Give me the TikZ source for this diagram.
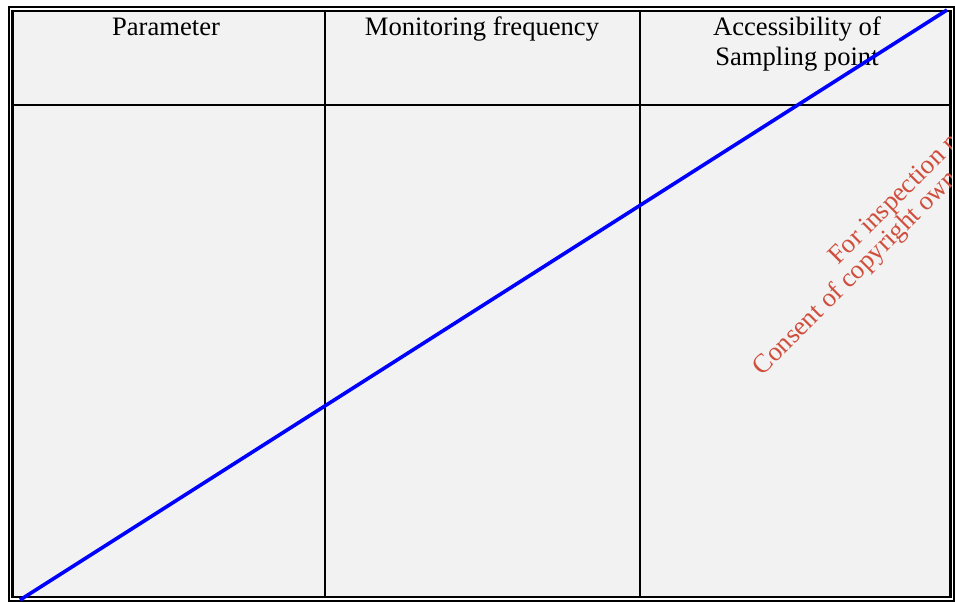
\documentclass[tikz,border=0pt]{standalone}
\usepackage{fontspec}
\setmainfont{Liberation Serif}
\usetikzlibrary{positioning}
\definecolor{cellgray}{RGB}{242,242,242}
\definecolor{stampred}{RGB}{208,78,60}

\begin{document}
\begin{tikzpicture}[x=0.5pt, y=-0.5pt,
  rule/.style={draw=black, line width=1.2pt},
  head/.style={inner sep=0pt, align=center, anchor=base,
    font=\fontsize{13.3}{15}\selectfont},
  stamp/.style={inner sep=0pt, anchor=base, rotate=45, text=stampred,
    font=\fontsize{13.3}{13}\selectfont}]
  \useasboundingbox (0,0) rectangle (955,603);
  % cell background and double frame
  \fill[cellgray] (12.5,11) rectangle (950.5,597);
  \draw[rule] (9,7) rectangle (954,601);
  \draw[rule] (12.5,11) rectangle (950.5,597);
  % column and header rules
  \coordinate (h1) at (12.5,105);
  \coordinate (h2) at (950.5,105);
  \coordinate (c1t) at (325,11);
  \coordinate (c1b) at (325,597);
  \coordinate (c2t) at (640,11);
  \coordinate (c2b) at (640,597);
  \draw[rule] (h1) -- (h2);
  \draw[rule] (c1t) -- (c1b);
  \draw[rule] (c2t) -- (c2b);
  % header texts
  \node[head] (par) at (166,36) {Parameter};
  \node[head] (freq) at (482,36) {Monitoring frequency};
  \node[head] (acc) at (797,36) {Accessibility of};
  \node[head] (samp) at (797,66) {Sampling point};
  % watermark
  \begin{scope}
    \clip (12.5,11) rectangle (951,597);
    \node[stamp] (insp) at (949,155) {For inspection purposes only.};
    \node[stamp] (cons) at (970,169) {Consent of copyright owner required for any other use.};
  \end{scope}
  % strike line
  \coordinate (s0) at (20,600);
  \coordinate (s1) at (947,10);
  \draw[blue, line width=1.8pt] (s0) -- (s1);
\end{tikzpicture}
\end{document}
